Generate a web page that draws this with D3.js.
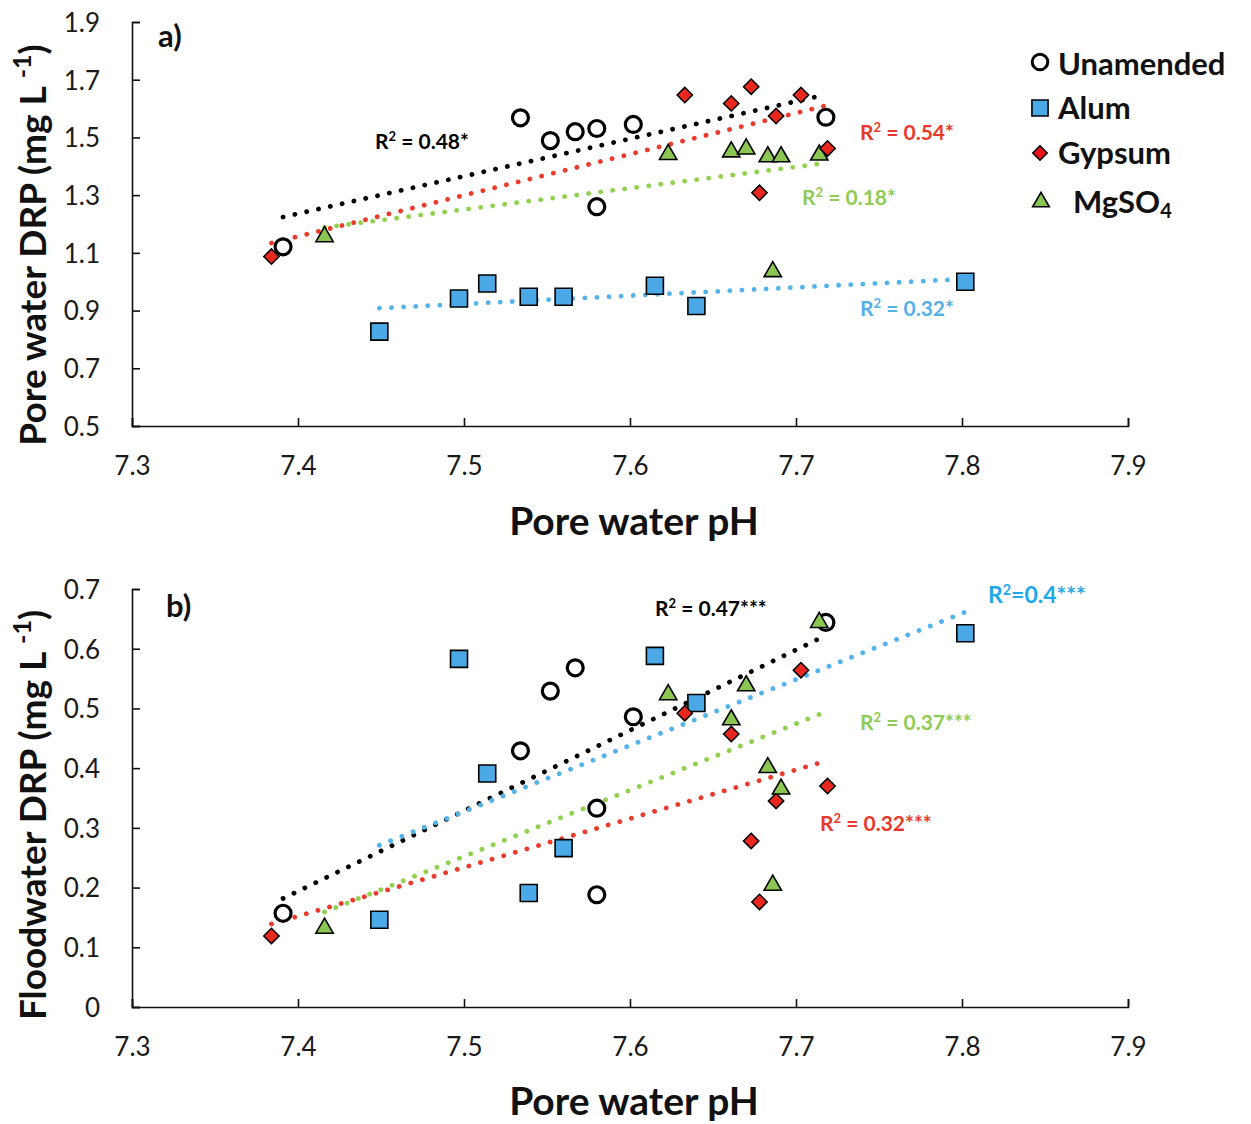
<!DOCTYPE html>
<html><head><meta charset="utf-8">
<script src="https://cdn.jsdelivr.net/npm/d3@7"></script>
<style>
body{margin:0;background:#fff;}
svg{display:block;font-family:Lato,"Open Sans",sans-serif;}
</style></head><body>
<svg id="c" width="1251" height="1124"></svg>
<script>
// ---------- data ----------
const treatments = ["Unamended", "Alum", "Gypsum", "MgSO4"];

const pH_unamended = [7.391, 7.534, 7.552, 7.567, 7.580, 7.580, 7.602, 7.718];
const poreDRP_unamended = [1.121, 1.568, 1.489, 1.520, 1.531, 1.260, 1.545, 1.570];
const floodDRP_unamended = [0.157, 0.429, 0.529, 0.568, 0.333, 0.188, 0.486, 0.644];

const pH_alum = [7.449, 7.497, 7.514, 7.539, 7.560, 7.615, 7.640, 7.802];
const poreDRP_alum = [0.827, 0.942, 0.994, 0.948, 0.948, 0.986, 0.916, 1.000];
const floodDRP_alum = [0.146, 0.583, 0.391, 0.191, 0.266, 0.588, 0.509, 0.626];

const pH_gypsum = [7.384, 7.633, 7.661, 7.673, 7.678, 7.688, 7.703, 7.719];
const poreDRP_gypsum = [1.087, 1.647, 1.618, 1.676, 1.308, 1.574, 1.647, 1.462];
const floodDRP_gypsum = [0.119, 0.492, 0.457, 0.278, 0.176, 0.345, 0.564, 0.370];

const pH_mgso4 = [7.416, 7.623, 7.661, 7.670, 7.683, 7.686, 7.691, 7.714];
const poreDRP_mgso4 = [1.156, 1.441, 1.450, 1.460, 1.433, 1.035, 1.433, 1.439];
const floodDRP_mgso4 = [0.132, 0.523, 0.481, 0.538, 0.401, 0.204, 0.365, 0.644];

const xTicks = [7.3, 7.4, 7.5, 7.6, 7.7, 7.8, 7.9];
const yTicksA = [0.5, 0.7, 0.9, 1.1, 1.3, 1.5, 1.7, 1.9];
const yTicksB = [0, 0.1, 0.2, 0.3, 0.4, 0.5, 0.6, 0.7];

// [prefix, after-superscript text]
const r2LabelsA = [[" = 0.48*"], [" = 0.32*"], [" = 0.54*"], [" = 0.18*"]];
const r2LabelsB = [[" = 0.47***"], ["=0.4***"], [" = 0.32***"], [" = 0.37***"]];

// ---------- styles ----------
const style = {
  Unamended: {fill: "#ffffff", line: "#000000", text: "#000000"},
  Alum:      {fill: "#4aa9e6", line: "#55b3ec", text: "#55b0e6"},
  Gypsum:    {fill: "#e8281e", line: "#ec3a2c", text: "#e8392b"},
  MgSO4:     {fill: "#8cc652", line: "#92d050", text: "#8fcb55"}
};

const svg = d3.select("#c");
const x = d3.scaleLinear().domain([7.3, 7.9]).range([132, 1128]);

function regression(xs, ys) {
  const mx = d3.mean(xs), my = d3.mean(ys);
  let sxy = 0, sxx = 0;
  xs.forEach((v, i) => { sxy += (v - mx) * (ys[i] - my); sxx += (v - mx) * (v - mx); });
  const b = sxy / sxx, a = my - b * mx;
  const x0 = d3.min(xs), x1 = d3.max(xs);
  return [[x0, a + b * x0], [x1, a + b * x1]];
}

function symbolPath(t) {
  if (t === "Unamended") return d3.symbol(d3.symbolCircle, 200)();
  if (t === "Alum") return d3.symbol(d3.symbolSquare, 289)();
  if (t === "Gypsum") return d3.symbol(d3.symbolSquare, 118)();
  return d3.symbol(d3.symbolTriangle, 130)();
}
function drawMarker(g, t, px, py) {
  const p = g.append("path").attr("d", symbolPath(t))
    .attr("fill", style[t].fill).attr("stroke", "#000");
  if (t === "Unamended") p.attr("stroke-width", 3.2).attr("transform", `translate(${px},${py})`);
  else if (t === "Gypsum") p.attr("stroke-width", 1.5).attr("transform", `translate(${px},${py}) rotate(45)`);
  else p.attr("stroke-width", 1.6).attr("transform", `translate(${px},${py})`);
}

function r2Text(g, l) {
  const t = g.append("text").attr("x", l.x).attr("y", l.y)
    .attr("fill", l.color).attr("font-weight", 700).attr("font-size", l.size || 21);
  t.append("tspan").text("R");
  t.append("tspan").text("2").attr("font-size", (l.size || 21) * 0.62).attr("dy", -8);
  t.append("tspan").text(l.text[0]).attr("dy", 8);
}

function panel(opts) {
  const y = d3.scaleLinear().domain(opts.yDomain).range(opts.yRange);
  const g = svg.append("g");
  const series = [
    ["Unamended", pH_unamended, opts.ys[0]],
    ["Alum", pH_alum, opts.ys[1]],
    ["Gypsum", pH_gypsum, opts.ys[2]],
    ["MgSO4", pH_mgso4, opts.ys[3]]
  ];
  const xAxis = d3.axisBottom(x).tickValues(xTicks).tickSize(-8).tickPadding(31)
    .tickFormat(d3.format(".1f"));
  const yAxis = d3.axisLeft(y).tickValues(opts.yTicks).tickSize(-8).tickPadding(32)
    .tickFormat(opts.yFmt);
  const gx = g.append("g").attr("transform", `translate(0,${opts.yRange[0]})`).call(xAxis);
  const gy = g.append("g").attr("transform", `translate(132,0)`).call(yAxis);
  [gx, gy].forEach(a => {
    a.selectAll("path,line").attr("stroke", "#111").attr("stroke-width", 1.6);
    a.selectAll("text").attr("font-size", 26).attr("fill", "#1a1a1a").attr("font-family", "Lato");
  });
  gy.selectAll("text").attr("dy", "0.36em");

  const line = d3.line().x(d => x(d[0])).y(d => y(d[1]));
  opts.lineOrder.forEach(i => {
    const [t, xs, ys] = series[i];
    g.append("path").attr("d", line(regression(xs, ys)))
      .attr("fill", "none").attr("stroke", style[t].line)
      .attr("stroke-width", 4.8).attr("stroke-linecap", "round")
      .attr("stroke-dasharray", "0.1 12");
  });
  opts.markerOrder.forEach(i => {
    const [t, xs, ys] = series[i];
    xs.forEach((v, k) => drawMarker(g, t, x(v), y(ys[k])));
  });

  opts.labels.forEach(l => r2Text(g, l));

  g.append("text").attr("x", opts.letterX).attr("y", opts.letterY).text(opts.letter)
    .attr("font-weight", 700).attr("font-size", 31).attr("fill", "#111");

  g.append("text").attr("x", 634).attr("y", opts.xTitleY).attr("text-anchor", "middle")
    .attr("font-weight", 700).attr("font-size", 39).attr("fill", "#111").text("Pore water pH");

  const yt = g.append("text").attr("transform", `translate(46,${opts.yTitleCY}) rotate(-90)`)
    .attr("text-anchor", "middle").attr("font-weight", 700).attr("font-size", 37).attr("fill", "#111");
  yt.append("tspan").text(opts.yTitle + " (mg L ");
  yt.append("tspan").text("-1").attr("font-size", 25).attr("dy", -15);
  yt.append("tspan").text(")").attr("dy", 15);
}

panel({
  yDomain: [0.5, 1.9], yRange: [426, 22], yTicks: yTicksA, yFmt: d3.format(".1f"),
  ys: [poreDRP_unamended, poreDRP_alum, poreDRP_gypsum, poreDRP_mgso4],
  lineOrder: [1, 3, 2, 0], markerOrder: [0, 1, 3, 2],
  labels: [
    {text: r2LabelsA[0], x: 375, y: 149, color: style.Unamended.text},
    {text: r2LabelsA[2], x: 860, y: 140, color: style.Gypsum.text},
    {text: r2LabelsA[3], x: 802, y: 205, color: style.MgSO4.text},
    {text: r2LabelsA[1], x: 860, y: 316, color: style.Alum.text}
  ],
  letter: "a)", letterX: 158, letterY: 47, xTitleY: 535,
  yTitle: "Pore water DRP", yTitleCY: 245
});

panel({
  yDomain: [0, 0.7], yRange: [1007, 589], yTicks: yTicksB, yFmt: d => d === 0 ? "0" : d3.format(".1f")(d),
  ys: [floodDRP_unamended, floodDRP_alum, floodDRP_gypsum, floodDRP_mgso4],
  lineOrder: [3, 2, 0, 1], markerOrder: [0, 1, 2, 3],
  labels: [
    {text: r2LabelsB[0], x: 655, y: 616, color: style.Unamended.text},
    {text: r2LabelsB[1], x: 988, y: 603, color: "#1ea8ec", size: 23},
    {text: r2LabelsB[3], x: 860, y: 730, color: style.MgSO4.text},
    {text: r2LabelsB[2], x: 820, y: 831, color: style.Gypsum.text}
  ],
  letter: "b)", letterX: 166, letterY: 617, xTitleY: 1115,
  yTitle: "Floodwater DRP", yTitleCY: 815
});

// ---------- legend ----------
const leg = svg.append("g");
const legY = [64, 108, 153, 202];
treatments.forEach((t, i) => {
  if (t === "Unamended") leg.append("path").attr("d", d3.symbol(d3.symbolCircle, 190)())
    .attr("transform", `translate(1040,${legY[i] - 2})`).attr("fill", "#fff").attr("stroke", "#000").attr("stroke-width", 3);
  else if (t === "Alum") leg.append("path").attr("d", d3.symbol(d3.symbolSquare, 260)())
    .attr("transform", `translate(1040,${legY[i]})`).attr("fill", style.Alum.fill).attr("stroke", "#000").attr("stroke-width", 1.6);
  else if (t === "Gypsum") leg.append("path").attr("d", d3.symbol(d3.symbolSquare, 105)())
    .attr("transform", `translate(1040,${legY[i]}) rotate(45)`).attr("fill", "#e8141a").attr("stroke", "#000").attr("stroke-width", 1.5);
  else leg.append("path").attr("d", d3.symbol(d3.symbolTriangle, 120)())
    .attr("transform", `translate(1041,${legY[i]})`).attr("fill", style.MgSO4.fill).attr("stroke", "#000").attr("stroke-width", 1.6);
  const tx = leg.append("text").attr("x", t === "MgSO4" ? 1073 : 1058).attr("y", legY[i] + 11)
    .attr("font-weight", 700).attr("font-size", 31).attr("fill", "#111");
  if (t === "MgSO4") {
    tx.append("tspan").text("MgSO");
    tx.append("tspan").text("4").attr("font-size", 20).attr("dy", 5);
  } else tx.text(t);
});
</script>
</body></html>
